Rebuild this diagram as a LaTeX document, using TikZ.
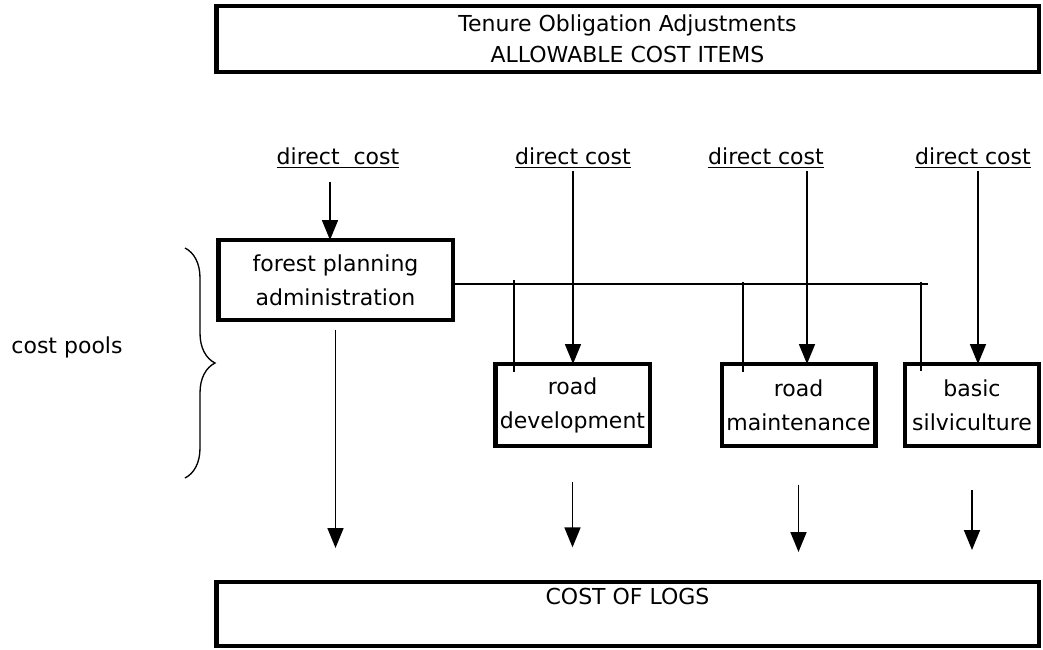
\documentclass[tikz,border=0pt]{standalone}
\usepackage{fontspec}
\setmainfont{DejaVu Sans}
\usetikzlibrary{arrows.meta, decorations.pathreplacing}

\newcommand{\costul}[1]{\setbox0\hbox{#1}\rlap{\rule[-3pt]{\wd0}{1.1pt}}\box0}

\tikzset{
    costbox/.style={draw, line width=3.5pt, inner sep=0pt, outer sep=0pt, align=center},
    flow/.style={-{Triangle[width=12pt, length=15pt]}, line width=1.3pt},
    feed/.style={line width=1pt},
}

\begin{document}
\begin{tikzpicture}[x=0.75pt, y=-0.75pt, font=\fontsize{16.5}{25.5}\selectfont]
    \useasboundingbox (0,0) rectangle (1043,650);

    % Draw boxes
    \node[costbox, minimum width=617pt, minimum height=49.5pt, font=\fontsize{16.5}{23.5}\selectfont] (items) at (627.5,39) {Tenure Obligation Adjustments\\ALLOWABLE COST ITEMS};
    \node[costbox, minimum width=176pt, minimum height=60pt] (plan) at (335.5,280) {forest planning\\administration};
    \node[costbox, minimum width=116pt, minimum height=61.5pt] (roaddev) at (572.5,405) {road\\development};
    \node[costbox, minimum width=115pt, minimum height=61.5pt] (roadmnt) at (798.5,405) {road\\maintenance};
    \node[costbox, minimum width=100.5pt, minimum height=61.5pt] (silv) at (972,405) {basic\\silviculture};
    \node[costbox, minimum width=617pt, text height=17pt, text depth=31pt, anchor=north] (logs) at (627.5,582) {COST OF LOGS};

    % Direct costs
    \node (dc1) at (338,158) {\costul{direct~~cost}};
    \node (dc2) at (573,158) {\costul{direct cost}};
    \node (dc3) at (766,158) {\costul{direct cost}};
    \node (dc4) at (973,158) {\costul{direct cost}};

    \coordinate (a1) at (330,182);
    \coordinate (a2) at (573,171);
    \coordinate (a3) at (807,171);
    \coordinate (a4) at (978,171);
    \draw[flow] (a1) -- (a1 |- plan.north);
    \draw[flow] (a2) -- (a2 |- roaddev.north);
    \draw[flow] (a3) -- (a3 |- roadmnt.north);
    \draw[flow] (a4) -- (a4 |- silv.north);

    % Cost pool links
    \coordinate (busend) at (928,284);
    \coordinate (t1) at (514,280);
    \coordinate (t2) at (743,282);
    \coordinate (t3) at (921,282);
    \draw[feed] (plan.east |- busend) -- (busend);
    \draw[feed, shorten >=-6pt] (t1) -- (t1 |- roaddev.north);
    \draw[feed, shorten >=-6pt] (t2) -- (t2 |- roadmnt.north);
    \draw[feed, shorten >=-5pt] (t3) -- (t3 |- silv.north);

    % Into cost of logs
    \draw[flow, shorten <=7.5pt, shorten >=25.5pt] (plan.south) -- (plan.south |- logs.north);
    \draw[flow, shorten <=27pt, shorten >=26pt] (roaddev.south) -- (roaddev.south |- logs.north);
    \draw[flow, shorten <=29pt, shorten >=22.5pt] (roadmnt.south) -- (roadmnt.south |- logs.north);
    \draw[flow, shorten <=33pt, shorten >=24pt] (silv.south) -- (silv.south |- logs.north);

    % Brace
    \draw[decorate, decoration={brace, amplitude=22.5pt}, line width=1pt] (185,248) -- (185,478);
    \node (pools) at (67,347) {cost pools};
\end{tikzpicture}
\end{document}
